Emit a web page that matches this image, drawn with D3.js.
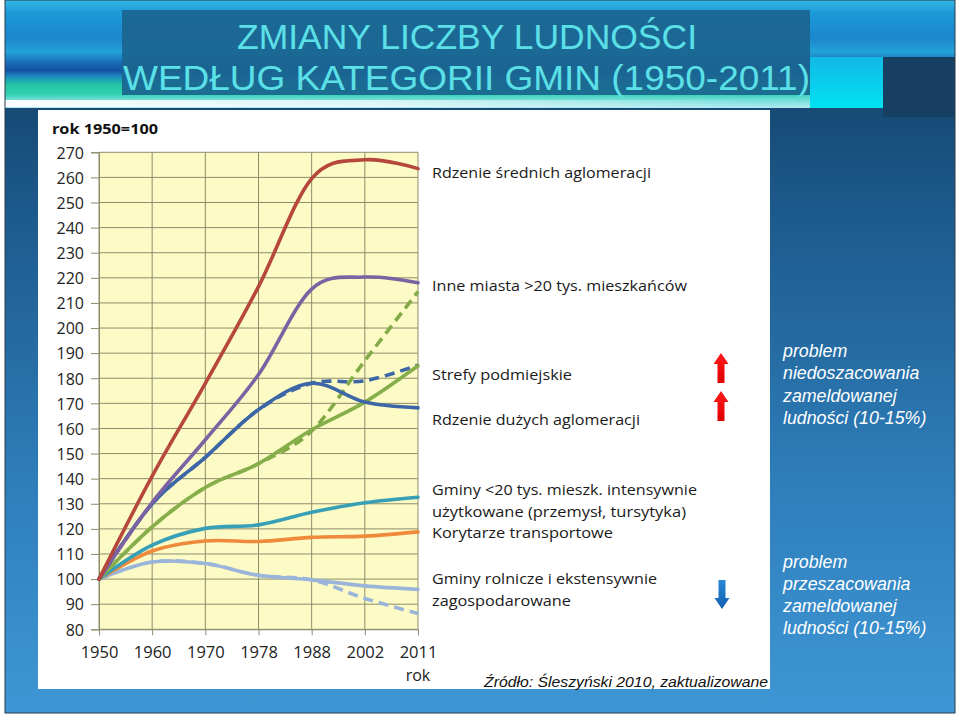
<!DOCTYPE html>
<html><head><meta charset="utf-8">
<script src="https://cdn.jsdelivr.net/npm/d3@7"></script>
<style>body{margin:0;background:#fff}svg{display:block}</style>
</head><body>
<svg id="c" width="960" height="716"></svg>
<script>
// ---- DATA ----
const years = ["1950","1960","1970","1978","1988","2002","2011"];
const yTicks = [80,90,100,110,120,130,140,150,160,170,180,190,200,210,220,230,240,250,260,270];
const rdzenieSrednich   = [100, 141, 178, 216.5, 259.5, 267, 263.5];
const inneMiasta        = [100, 130.5, 155.5, 181.5, 215.5, 220.3, 218];
const rdzenieDuzych     = [100, 130, 148.5, 167.5, 178, 170.5, 168.2];
const rdzenieDuzychKor  = [100, 130, 148.5, 167.5, 178, 179, 185.2];
const strefy            = [100, 120.8, 136.5, 146, 159.5, 170.5, 185];
const strefyKor         = [100, 120.8, 136.5, 146, 159, 187, 214.5];
const gminyIntensywne   = [100, 113.5, 120.2, 121.6, 126.6, 130.4, 132.6];
const korytarze         = [100, 111.2, 115.2, 115, 116.6, 117.1, 118.8];
const gminyRolnicze     = [100, 106.8, 106.2, 101.5, 99.7, 97.3, 95.9];
const gminyRolniczeKor  = [100, 106.8, 106.2, 101.5, 99.7, 92.3, 86.3];
const legendLabels = [
  "Rdzenie średnich aglomeracji",
  "Inne miasta >20 tys. mieszkańców",
  "Strefy podmiejskie",
  "Rdzenie dużych aglomeracji",
  "Gminy <20 tys. mieszk. intensywnie",
  "użytkowane (przemysł, tursytyka)",
  "Korytarze transportowe",
  "Gminy rolnicze i ekstensywnie",
  "zagospodarowane"
];
const noteTop = ["problem","niedoszacowania","zameldowanej","ludności (10-15%)"];
const noteBottom = ["problem","przeszacowania","zameldowanej","ludności (10-15%)"];
const titleLines = ["ZMIANY LICZBY LUDNOŚCI","WEDŁUG KATEGORII GMIN (1950-2011)"];
const yAxisTitle = "rok 1950=100";
const xAxisTitle = "rok";
const sourceText = "Źródło: Śleszyński 2010, zaktualizowane";

// ---- DRAW ----
const svg = d3.select("#c");
const defs = svg.append("defs");
function lg(id, x2, y2, stops){
  const g = defs.append("linearGradient").attr("id", id).attr("x1",0).attr("y1",0).attr("x2",x2).attr("y2",y2);
  stops.forEach(s => g.append("stop").attr("offset", s[0]).attr("stop-color", s[1]).attr("stop-opacity", s[2]===undefined?1:s[2]));
}
lg("body", 0, 1, [[0,"#103a5e"],[0.3,"#1d5a8c"],[0.7,"#2f80bd"],[1,"#3f96d4"]]);
lg("banner", 0, 1, [[0,"#34b6e6"],[0.12,"#1c9ad8"],[0.35,"#1b86cc"],[0.48,"#24a2d8"],[0.58,"#1a6cb8"],[0.65,"#1450a0"],[0.71,"#1c8cc0"],[0.78,"#22c2a2"],[0.87,"#30d0b0"],[0.92,"#6cdcd6"],[1,"#b0eaf2"]]);
lg("whiteStrip", 1, 0, [[0,"#ffffff",0.95],[0.5,"#ffffff",0.7],[1,"#ffffff",0]]);
lg("cyanBox", 0, 1, [[0,"#12b8e6"],[1,"#00e2f2"]]);
lg("redArrow", 0, 1, [[0,"#ff1a1a"],[1,"#e00000"]]);
lg("blueArrow", 0, 1, [[0,"#2a86d6"],[1,"#1460b0"]]);

// slide body
svg.append("rect").attr("x",5).attr("y",0).attr("width",950).attr("height",713).attr("fill","url(#body)");
svg.append("rect").attr("x",5).attr("y",0).attr("width",950).attr("height",108).attr("fill","url(#banner)");
svg.append("rect").attr("x",5).attr("y",100).attr("width",760).attr("height",7).attr("fill","url(#whiteStrip)");
svg.append("rect").attr("x",810).attr("y",57).attr("width",73).attr("height",51).attr("fill","url(#cyanBox)");
svg.append("rect").attr("x",883).attr("y",57).attr("width",72).attr("height",60).attr("fill","#173f61");
svg.append("rect").attr("x",5).attr("y",0).attr("width",950).attr("height",713).attr("fill","none").attr("stroke","#2b3b4b").attr("stroke-width",1);

// title
svg.append("rect").attr("x",122).attr("y",10).attr("width",688).attr("height",85).attr("fill","#1b6590").attr("opacity",0.93);
svg.append("text").text(titleLines[0]).attr("x",237).attr("y",49).attr("textLength",460).attr("lengthAdjust","spacingAndGlyphs")
  .attr("font-family","Liberation Sans, Arial").attr("font-size",35.5).attr("fill","#5ce0e8");
svg.append("text").text(titleLines[1]).attr("x",123).attr("y",89.5).attr("textLength",687).attr("lengthAdjust","spacingAndGlyphs")
  .attr("font-family","Liberation Sans, Arial").attr("font-size",35.5).attr("fill","#5ce0e8");

// white chart panel
svg.append("rect").attr("x",38).attr("y",110).attr("width",732).attr("height",579).attr("fill","#ffffff");

// scales
const x = d3.scalePoint().domain(years).range([99, 418]);
const y = d3.scaleLinear().domain([80, 270]).range([629.3, 152.3]);

const plot = svg.append("g");
plot.append("rect").attr("x",99).attr("y",y(270)).attr("width",319).attr("height",y(80)-y(270)).attr("fill","#fdfbc5");
const gridCol = "#8e8c6c";
plot.selectAll(".hg").data(yTicks).join("line").attr("x1",99).attr("x2",418).attr("y1",d=>y(d)).attr("y2",d=>y(d)).attr("stroke",gridCol).attr("stroke-width",1);
plot.selectAll(".vg").data(years).join("line").attr("x1",d=>x(d)).attr("x2",d=>x(d)).attr("y1",y(270)).attr("y2",y(80)).attr("stroke",gridCol).attr("stroke-width",1);

const yAxis = svg.append("g").attr("transform","translate(99,0)").call(d3.axisLeft(y).tickValues(yTicks).tickSize(8).tickPadding(7));
const xAxis = svg.append("g").attr("transform",`translate(0,${y(80)})`).call(d3.axisBottom(x).tickSize(6).tickPadding(11));
[yAxis, xAxis].forEach(a => {
  a.select(".domain").attr("stroke",gridCol);
  a.selectAll(".tick line").attr("stroke",gridCol);
  a.selectAll("text").attr("font-family","Open Sans").attr("font-size",16).attr("fill","#222");
});
xAxis.selectAll("text").attr("font-size",16.5);
yAxis.selectAll("text").attr("dy","0.36em");

svg.append("text").text(yAxisTitle).attr("x",52).attr("y",134).attr("textLength",106).attr("lengthAdjust","spacingAndGlyphs")
  .attr("font-family","Open Sans").attr("font-weight","bold").attr("font-size",15).attr("fill","#111");
svg.append("text").text(xAxisTitle).attr("x",418).attr("y",681).attr("text-anchor","middle")
  .attr("font-family","Open Sans").attr("font-size",16).attr("fill","#222");

// series
const line = d3.line().x((d,i)=>x(years[i])).y(d=>y(d)).curve(d3.curveCardinal.tension(0));
const series = [
  {v: rdzenieDuzychKor, c:"#3c66a6", dash:"10,6"},
  {v: strefyKor, c:"#82ab48", dash:"10,6"},
  {v: gminyRolniczeKor, c:"#9bb5da", dash:"10,6"},
  {v: gminyRolnicze, c:"#9bb5da"},
  {v: korytarze, c:"#ef8a3c"},
  {v: gminyIntensywne, c:"#37a0b6"},
  {v: strefy, c:"#86ae4a"},
  {v: rdzenieDuzych, c:"#3c66a6"},
  {v: inneMiasta, c:"#7b62a2"},
  {v: rdzenieSrednich, c:"#b5473c"}
];
svg.append("g").selectAll("path").data(series).join("path")
  .attr("d", d=>line(d.v)).attr("fill","none").attr("stroke",d=>d.c).attr("stroke-width",3.6)
  .attr("stroke-linecap", d=>d.dash?"butt":"round").attr("stroke-dasharray", d=>d.dash||null);

// legend labels
const legY = [178, 291, 380, 425, 495, 517, 538, 584, 606];
const legW = [219, 255, 140, 208, 265, 254, 181, 225, 139];
svg.append("g").selectAll("text").data(legendLabels).join("text")
  .text(d=>d).attr("x",432).attr("y",(d,i)=>legY[i]).attr("textLength",(d,i)=>legW[i]).attr("lengthAdjust","spacingAndGlyphs")
  .attr("font-family","Open Sans").attr("font-size",15).attr("fill","#1a1a1a");

// arrows
function arrow(cx, top, bottom, up, fill){
  const hw = 7.5, sw = 3.5, hh = 11;
  let pts;
  if (up) pts = [[cx,top],[cx+hw,top+hh],[cx+sw,top+hh],[cx+sw,bottom],[cx-sw,bottom],[cx-sw,top+hh],[cx-hw,top+hh]];
  else pts = [[cx,bottom],[cx+hw,bottom-hh],[cx+sw,bottom-hh],[cx+sw,top],[cx-sw,top],[cx-sw,bottom-hh],[cx-hw,bottom-hh]];
  svg.append("polygon").attr("points", pts.map(p=>p.join(",")).join(" ")).attr("fill",fill);
}
arrow(721, 353, 383, true, "url(#redArrow)");
arrow(721, 391, 421, true, "url(#redArrow)");
arrow(722, 580, 609, false, "url(#blueArrow)");

// notes
const nt = svg.append("g").attr("font-family","Liberation Sans, Arial").attr("font-style","italic").attr("font-size",17.8).attr("fill","#ffffff");
nt.selectAll(".a").data(noteTop).join("text").text(d=>d).attr("x",783).attr("y",(d,i)=>357+i*22.3);
nt.selectAll(".b").data(noteBottom).join("text").text(d=>d).attr("x",783).attr("y",(d,i)=>568+i*22);

svg.append("text").text(sourceText).attr("x",484).attr("y",687).attr("textLength",284).attr("lengthAdjust","spacingAndGlyphs")
  .attr("font-family","Liberation Sans, Arial").attr("font-style","italic").attr("font-size",15).attr("fill","#111");
</script>
</body></html>
